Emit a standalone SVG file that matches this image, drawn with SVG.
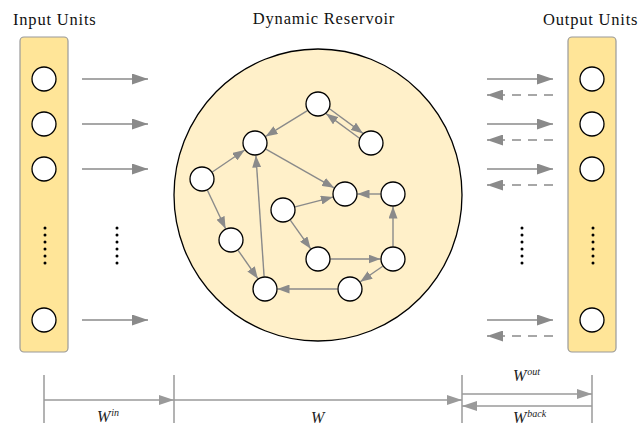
<svg xmlns="http://www.w3.org/2000/svg" width="641" height="426" viewBox="0 0 641 426">
<style>
.t{font-family:"Liberation Serif","DejaVu Serif",serif;font-size:16.5px;letter-spacing:0.8px;fill:#111}
.w{font-family:"Liberation Serif","DejaVu Serif",serif;font-style:italic;fill:#222}
.bar{fill:#ffe598;stroke:#9a9a9a;stroke-width:1.2}
.n{fill:#fff;stroke:#000;stroke-width:1.3}
.e{stroke:#8a8a8a;stroke-width:1.4;fill:none;marker-end:url(#ah)}
.a{stroke:#8a8a8a;stroke-width:1.6;fill:none;marker-end:url(#big)}
.d{stroke:#8a8a8a;stroke-width:1.6;fill:none;stroke-dasharray:9,7;marker-end:url(#big)}
.dim{stroke:#9a9a9a;stroke-width:1.5;fill:none}
.dm{stroke:#9a9a9a;stroke-width:1.5;fill:none;marker-end:url(#dh)}
.dot{fill:#000}
</style>
<defs>
<marker id="ah" markerUnits="userSpaceOnUse" markerWidth="12" markerHeight="9" refX="12" refY="4.5" orient="auto"><path d="M0,0 L12,4.5 L0,9 z" fill="#8a8a8a"/></marker>
<marker id="big" markerUnits="userSpaceOnUse" markerWidth="16" markerHeight="11" refX="16" refY="5.5" orient="auto"><path d="M0,0 L16,5.5 L0,11 z" fill="#8a8a8a"/></marker>
<marker id="dh" markerUnits="userSpaceOnUse" markerWidth="15" markerHeight="10" refX="15" refY="5" orient="auto"><path d="M0,0 L15,5 L0,10 z" fill="#9a9a9a"/></marker>
</defs>

<text class="t" x="13" y="25">Input Units</text>
<text class="t" x="324" y="24" text-anchor="middle">Dynamic Reservoir</text>
<text class="t" x="543" y="25">Output Units</text>

<g id="input-units">
<rect class="bar" x="20" y="37" width="48" height="315" rx="4"/>
<circle class="n" cx="44" cy="79" r="12"/>
<circle class="n" cx="44" cy="124" r="12"/>
<circle class="n" cx="44" cy="169" r="12"/>
<circle class="n" cx="44" cy="320" r="12"/>
<g class="dot"><circle cx="45" cy="228" r="1.5"/><circle cx="45" cy="235" r="1.5"/><circle cx="45" cy="242" r="1.5"/><circle cx="45" cy="249" r="1.5"/><circle cx="45" cy="256" r="1.5"/><circle cx="45" cy="263" r="1.5"/></g>
</g>

<g id="output-units">
<rect class="bar" x="568" y="37" width="48" height="315" rx="4"/>
<circle class="n" cx="592" cy="79" r="12"/>
<circle class="n" cx="592" cy="124" r="12"/>
<circle class="n" cx="592" cy="169" r="12"/>
<circle class="n" cx="592" cy="320" r="12"/>
<g class="dot"><circle cx="593" cy="228" r="1.5"/><circle cx="593" cy="235" r="1.5"/><circle cx="593" cy="242" r="1.5"/><circle cx="593" cy="249" r="1.5"/><circle cx="593" cy="256" r="1.5"/><circle cx="593" cy="263" r="1.5"/></g>
</g>

<g id="reservoir">
<ellipse cx="318" cy="195" rx="144" ry="146" fill="#fff0c9" stroke="#000" stroke-width="1.3"/>
</g>

<g id="ellipsis-dots" class="dot">
<circle cx="117" cy="228" r="1.5"/><circle cx="117" cy="235" r="1.5"/><circle cx="117" cy="242" r="1.5"/><circle cx="117" cy="249" r="1.5"/><circle cx="117" cy="256" r="1.5"/><circle cx="117" cy="263" r="1.5"/>
<circle cx="522" cy="228" r="1.5"/><circle cx="522" cy="235" r="1.5"/><circle cx="522" cy="242" r="1.5"/><circle cx="522" cy="249" r="1.5"/><circle cx="522" cy="256" r="1.5"/><circle cx="522" cy="263" r="1.5"/>
</g>

<g id="connectors">
<line class="a" x1="82" y1="79" x2="148" y2="79"/>
<line class="a" x1="82" y1="124" x2="148" y2="124"/>
<line class="a" x1="82" y1="169" x2="148" y2="169"/>
<line class="a" x1="82" y1="320" x2="148" y2="320"/>
<line class="a" x1="487" y1="79" x2="553" y2="79"/>
<line class="d" x1="553" y1="95" x2="487" y2="95"/>
<line class="a" x1="487" y1="124" x2="553" y2="124"/>
<line class="d" x1="553" y1="140" x2="487" y2="140"/>
<line class="a" x1="487" y1="169" x2="553" y2="169"/>
<line class="d" x1="553" y1="185" x2="487" y2="185"/>
<line class="a" x1="487" y1="320" x2="553" y2="320"/>
<line class="d" x1="553" y1="336" x2="487" y2="336"/>

<line class="e" x1="307.4" y1="110.6" x2="265.6" y2="136.4"/>
<line class="e" x1="329.5" y1="108.8" x2="363.0" y2="133.4"/>
<line class="e" x1="359.5" y1="138.2" x2="326.0" y2="113.6"/>
<line class="e" x1="212.3" y1="172.0" x2="244.7" y2="150.0"/>
<line class="e" x1="265.9" y1="149.2" x2="334.1" y2="187.8"/>
<line class="e" x1="207.4" y1="190.3" x2="225.6" y2="228.7"/>
<line class="e" x1="238.1" y1="250.3" x2="257.9" y2="278.7"/>
<line class="e" x1="264.1" y1="276.5" x2="255.9" y2="155.5"/>
<line class="e" x1="295.1" y1="206.9" x2="332.9" y2="197.1"/>
<line class="e" x1="290.3" y1="220.2" x2="310.7" y2="248.8"/>
<line class="e" x1="330.5" y1="259" x2="380.5" y2="259"/>
<line class="e" x1="393" y1="246.5" x2="393" y2="206.5"/>
<line class="e" x1="380.5" y1="194" x2="357.5" y2="194"/>
<line class="e" x1="382.7" y1="266.2" x2="360.3" y2="281.8"/>
<line class="e" x1="337.5" y1="289" x2="277.5" y2="289"/>

<line class="dim" x1="44" y1="375" x2="44" y2="423"/>
<line class="dim" x1="174" y1="375" x2="174" y2="423"/>
<line class="dim" x1="462" y1="375" x2="462" y2="423"/>
<line class="dim" x1="592" y1="375" x2="592" y2="423"/>
<line class="dm" x1="44" y1="400" x2="174" y2="400"/>
<line class="dm" x1="174" y1="400" x2="462" y2="400"/>
<line class="dm" x1="462" y1="394" x2="592" y2="394"/>
<line class="dm" x1="592" y1="406" x2="462" y2="406"/>
</g>

<g id="reservoir-nodes">
<circle id="n1" class="n" cx="318" cy="104" r="12"/>
<circle id="n2" class="n" cx="371" cy="143" r="12"/>
<circle id="n3" class="n" cx="255" cy="143" r="12"/>
<circle id="n4" class="n" cx="202" cy="179" r="12"/>
<circle id="n5" class="n" cx="345" cy="194" r="12"/>
<circle id="n6" class="n" cx="393" cy="194" r="12"/>
<circle id="n7" class="n" cx="283" cy="210" r="12"/>
<circle id="n8" class="n" cx="231" cy="240" r="12"/>
<circle id="n9" class="n" cx="318" cy="259" r="12"/>
<circle id="n10" class="n" cx="393" cy="259" r="12"/>
<circle id="n11" class="n" cx="265" cy="289" r="12"/>
<circle id="n12" class="n" cx="350" cy="289" r="12"/>
</g>

<g id="labels">
<text class="w" x="97" y="422" font-size="16">W<tspan font-size="10" dx="1" dy="-6">in</tspan></text>
<text class="w" x="311" y="423" font-size="16">W</text>
<text class="w" x="513" y="381" font-size="16">W<tspan font-size="10" dx="1" dy="-6">out</tspan></text>
<text class="w" x="513" y="423" font-size="16">W<tspan font-size="10" dx="1" dy="-6">back</tspan></text>
</g>
</svg>
